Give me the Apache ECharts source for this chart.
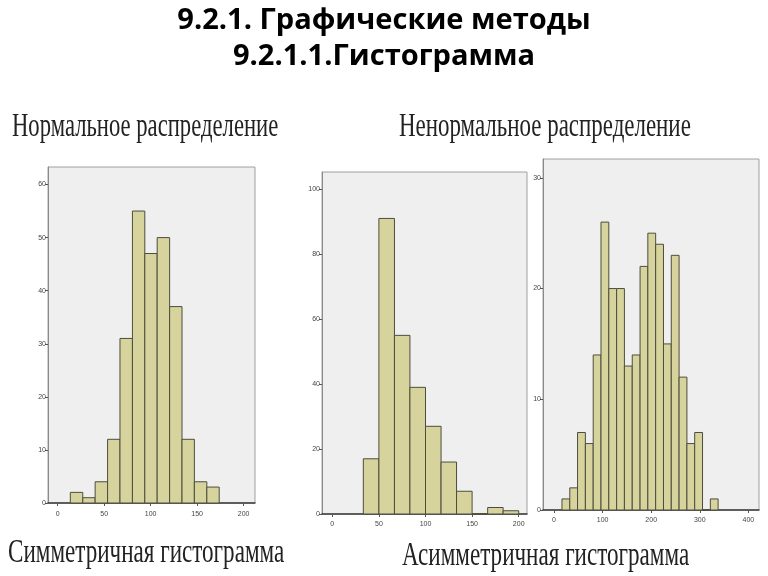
<!DOCTYPE html>
<html>
<head>
<meta charset="utf-8">
<script src="https://cdn.jsdelivr.net/npm/echarts@6/dist/echarts.min.js"></script>
<style>
html,body{margin:0;padding:0;background:#fff;}
#c{width:768px;height:576px;}
</style>
</head>
<body>
<div id="c"></div>
<script>
// ---- Data ----
const titleLine1 = '9.2.1. Графические методы';
const titleLine2 = '9.2.1.1.Гистограмма';
const labelNormal = 'Нормальное распределение';
const labelNonNormal = 'Ненормальное распределение';
const labelSym = 'Симметричная гистограмма';
const labelAsym = 'Асимметричная гистограмма';

// Histogram 1 (symmetric)
const edges1 = [13.6, 27, 40.3, 53.7, 67, 80.4, 93.7, 107, 120.4, 133.7, 147, 160.4, 173.7];
const counts1 = [2, 1, 4, 12, 31, 55, 47, 50, 37, 12, 4, 3];
const xTicks1 = [0, 50, 100, 150, 200];
const yTicks1 = [0, 10, 20, 30, 40, 50, 60];

// Histogram 2 (right-skewed)
const edges2 = [33.3, 50, 66.7, 83.3, 100, 116.7, 133.3, 150, 166.7, 183.3, 200];
const counts2 = [17, 91, 55, 39, 27, 16, 7, 0, 2, 1];
const xTicks2 = [0, 50, 100, 150, 200];
const yTicks2 = [0, 20, 40, 60, 80, 100];

// Histogram 3 (bimodal)
const edges3 = [16.4, 32.5, 48.5, 64.6, 80.7, 96.7, 112.8, 128.9, 144.9, 161, 177.1, 193.1, 209.2, 225.3, 241.3, 257.4, 273.5, 289.5, 305.6, 321.7, 337.7];
const counts3 = [1, 2, 7, 6, 14, 26, 20, 20, 13, 14, 22, 25, 24, 15, 23, 12, 6, 7, 0, 1];
const xTicks3 = [0, 100, 200, 300, 400];
const yTicks3 = [0, 10, 20, 30];

// ---- Build ----
function binData(edges, counts) {
  return counts.map((c, i) => [edges[i], edges[i + 1], c]);
}

const grids = [
  {left: 48, top: 167, width: 207, height: 336, xMin: -10.4, xMax: 212.2, yMax: 63.3, xl: 8},
  {left: 322, top: 172, width: 205, height: 342, xMin: -11.05, xMax: 208.9, yMax: 105.3, xl: 7},
  {left: 543, top: 159, width: 216, height: 351, xMin: -22.6, xMax: 421.8, yMax: 31.7, xl: 7}
];
const xTicksAll = [xTicks1, xTicks2, xTicks3];
const yTicksAll = [yTicks1, yTicks2, yTicks3];
const dataAll = [binData(edges1, counts1), binData(edges2, counts2), binData(edges3, counts3)];

const labelStyle = {fontSize: 7, color: '#444', fontFamily: 'Liberation Sans'};

const option = {
  animation: false,
  backgroundColor: '#ffffff',
  grid: grids.map(g => ({
    left: g.left, top: g.top, width: g.width, height: g.height,
    show: true, backgroundColor: '#efefef', borderColor: '#a0a0a0', borderWidth: 1,
    containLabel: false
  })),
  xAxis: grids.map((g, i) => ({
    type: 'value', gridIndex: i, min: g.xMin, max: g.xMax,
    splitLine: {show: false},
    axisLine: {show: true, onZero: false, lineStyle: {color: '#3a3a3a', width: 1.5}},
    axisTick: {show: true, length: 3, lineStyle: {color: '#555'}, customValues: xTicksAll[i]},
    axisLabel: Object.assign({show: true, margin: g.xl, customValues: xTicksAll[i]}, labelStyle)
  })),
  yAxis: grids.map((g, i) => ({
    type: 'value', gridIndex: i, min: 0, max: g.yMax,
    splitLine: {show: false},
    axisLine: {show: true, onZero: false, lineStyle: {color: '#8a8a8a', width: 1}},
    axisTick: {show: true, length: 3, lineStyle: {color: '#555'}, customValues: yTicksAll[i]},
    axisLabel: Object.assign({show: true, margin: 2, customValues: yTicksAll[i]}, labelStyle)
  })),
  series: dataAll.map((d, i) => ({
    type: 'custom', xAxisIndex: i, yAxisIndex: i,
    data: d,
    renderItem: function (params, api) {
      const p0 = api.coord([api.value(0), api.value(2)]);
      const p1 = api.coord([api.value(1), 0]);
      return {
        type: 'rect',
        shape: {x: p0[0], y: p0[1], width: p1[0] - p0[0], height: p1[1] - p0[1]},
        style: {fill: '#d7d39d', stroke: '#4d4d3d', lineWidth: 1}
      };
    }
  })),
  graphic: [
    {type: 'text', x: 384, y: 21, scaleX: 1.037, style: {text: titleLine1, font: 'bold 28px "Open Sans"', fill: '#000', textAlign: 'center', textVerticalAlign: 'middle'}},
    {type: 'text', x: 384, y: 57, scaleX: 1.037, style: {text: titleLine2, font: 'bold 28px "Open Sans"', fill: '#000', textAlign: 'center', textVerticalAlign: 'middle'}},
    {type: 'text', x: 12, y: 127, scaleX: 0.687, style: {text: labelNormal, font: '33px "Liberation Serif"', fill: '#222', textAlign: 'left', textVerticalAlign: 'middle'}},
    {type: 'text', x: 399, y: 127, scaleX: 0.695, style: {text: labelNonNormal, font: '33px "Liberation Serif"', fill: '#222', textAlign: 'left', textVerticalAlign: 'middle'}},
    {type: 'text', x: 8, y: 553, scaleX: 0.7, style: {text: labelSym, font: '33px "Liberation Serif"', fill: '#222', textAlign: 'left', textVerticalAlign: 'middle'}},
    {type: 'text', x: 402, y: 556, scaleX: 0.7, style: {text: labelAsym, font: '33px "Liberation Serif"', fill: '#222', textAlign: 'left', textVerticalAlign: 'middle'}}
  ]
};

const chart = echarts.init(document.getElementById('c'), null, {renderer: 'canvas'});
chart.setOption(option);
</script>
</body>
</html>
